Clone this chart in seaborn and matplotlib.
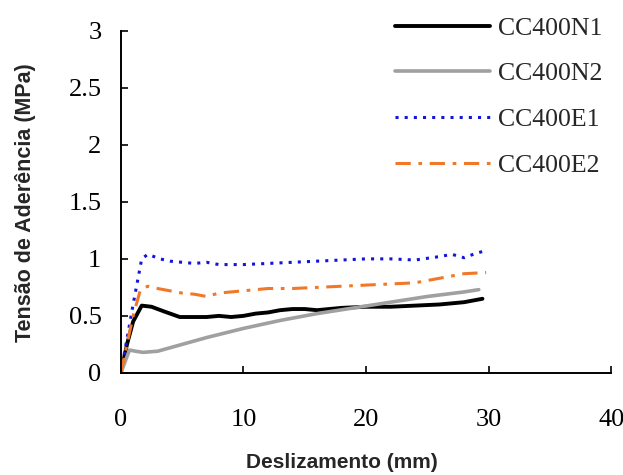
import matplotlib
matplotlib.use("Agg")
import matplotlib.pyplot as plt
import seaborn as sns
import pandas as pd

# Data
n1_x = [0, 0.5, 1.0, 1.7, 2.5, 3.5, 4.8, 6, 7, 8, 9, 10, 11, 12, 13, 14, 15, 16, 17, 18, 20, 22, 24, 26, 28, 29.5]
n1_y = [0, 0.25, 0.45, 0.59, 0.58, 0.54, 0.49, 0.49, 0.49, 0.5, 0.49, 0.5, 0.52, 0.53, 0.55, 0.56, 0.56, 0.55, 0.56, 0.57, 0.58, 0.58, 0.59, 0.6, 0.62, 0.65]

n2_x = [0, 0.7, 1.2, 1.8, 3, 5, 7, 10, 13, 16, 19, 22, 25, 28, 29.2]
n2_y = [0, 0.2, 0.19, 0.18, 0.19, 0.25, 0.31, 0.39, 0.46, 0.52, 0.57, 0.62, 0.67, 0.71, 0.73]

e1_x = [0, 0.5, 1, 1.7, 2.2, 2.7, 3.2, 4, 5, 6, 7, 8, 10, 12, 14, 16, 18, 20, 22, 24, 26, 27, 28, 29, 29.7]
e1_y = [0, 0.3, 0.6, 1.0, 1.04, 1.02, 1.0, 0.98, 0.97, 0.96, 0.97, 0.95, 0.95, 0.96, 0.97, 0.98, 0.99, 1.0, 1.0, 0.99, 1.02, 1.04, 1.01, 1.05, 1.07]

e2_x = [0, 0.5, 1, 1.6, 2.2, 3, 4, 5, 6, 7, 8, 10, 12, 14, 16, 18, 20, 22, 24, 26, 28, 29.8]
e2_y = [0, 0.25, 0.5, 0.73, 0.76, 0.74, 0.72, 0.7, 0.69, 0.67, 0.7, 0.72, 0.74, 0.74, 0.75, 0.76, 0.77, 0.78, 0.79, 0.83, 0.87, 0.88]

labels = ["CC400N1", "CC400N2", "CC400E1", "CC400E2"]
x_ticks = [0, 10, 20, 30, 40]
y_ticks = [0, 0.5, 1, 1.5, 2, 2.5, 3]
y_ticklabels = ["0", "0.5", "1", "1.5", "2", "2.5", "3"]

sns.set_style("ticks")
plt.rcParams["font.family"] = ["DejaVu Sans"]

fig = plt.figure(figsize=(6.23, 4.75), dpi=100)
ax = fig.add_axes([0.194, 0.215, 0.787, 0.72])

styles = [
    dict(color="black", linewidth=2.8, linestyle="-"),
    dict(color="#a0a0a0", linewidth=2.6, linestyle="-"),
    dict(color="#1414dc", linewidth=2.2, linestyle=(0, (1, 2.0))),
    dict(color="#f07828", linewidth=2.2, linestyle=(0, (5, 2.5, 1.2, 2.5))),
]
series = [(n1_x, n1_y), (n2_x, n2_y), (e1_x, e1_y), (e2_x, e2_y)]
for (xs, ys), lab, st in zip(series, labels, styles):
    df = pd.DataFrame({"x": xs, "y": ys})
    sns.lineplot(data=df, x="x", y="y", ax=ax, label=lab, **st)

ax.set_xlim(0, 40)
ax.set_ylim(0, 3)
ax.set_xticks(x_ticks)
ax.set_yticks(y_ticks)
ax.set_yticklabels(y_ticklabels)
serif = ["Liberation Serif", "DejaVu Serif"]
for t in ax.get_xticklabels() + ax.get_yticklabels():
    t.set_fontfamily(serif)
    t.set_fontsize(19)
ax.tick_params(axis="x", direction="in", length=5, width=1.2, pad=26, colors="black")
ax.tick_params(axis="y", direction="in", length=5, width=1.2, pad=14, colors="black")
for s in ["top", "right"]:
    ax.spines[s].set_visible(False)
for s in ["left", "bottom"]:
    ax.spines[s].set_linewidth(1.4)
    ax.spines[s].set_color("black")

ax.set_xlabel("Deslizamento (mm)", fontsize=15, fontweight="bold",
              fontfamily=["Liberation Sans", "DejaVu Sans"])
ax.set_ylabel("Tensão de Aderência (MPa)", fontsize=15.5, fontweight="bold",
              fontfamily=["Liberation Sans", "DejaVu Sans"])
ax.xaxis.set_label_coords(0.451, -0.234)
ax.yaxis.set_label_coords(-0.173, 0.497)

leg = ax.legend(loc="upper left", bbox_to_anchor=(0.634, 0.965),
                bbox_transform=fig.transFigure, frameon=False,
                prop={"family": serif, "size": 18.5}, handlelength=3.7,
                labelspacing=0.89, handletextpad=0.3, borderpad=0, borderaxespad=0)

fig.savefig("out.png", dpi=100)
